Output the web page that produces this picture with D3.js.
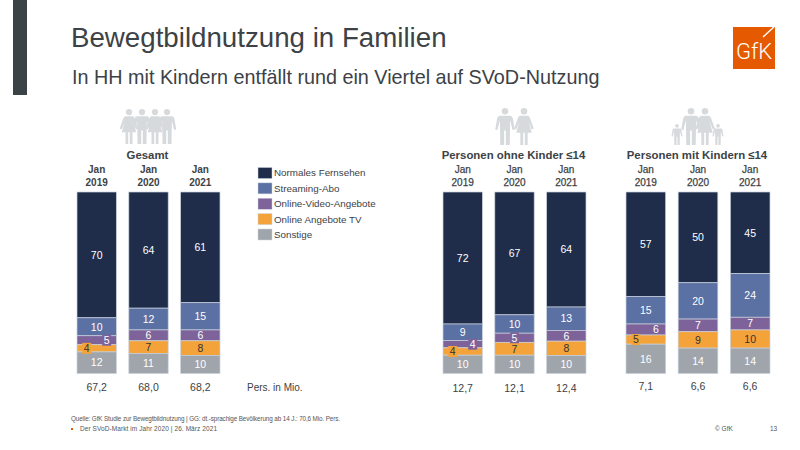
<!DOCTYPE html>
<html>
<head>
<meta charset="utf-8">
<script src="https://cdn.jsdelivr.net/npm/d3@7"></script>
<style>
  html, body { margin: 0; padding: 0; background: #fff; }
  svg { display: block; font-family: "Liberation Sans", Arial, sans-serif; }
</style>
</head>
<body>
<svg id="chart" width="800" height="450"></svg>
<script>
const years = ['2019', '2020', '2021'];
const seriesNames = ['Normales Fernsehen', 'Streaming-Abo', 'Online-Video-Angebote', 'Online Angebote TV', 'Sonstige'];
const seriesColors = ['#1f2d4a', '#5b70a3', '#7d6399', '#f4a33a', '#9fa5aa'];
const labelColors = ['#fff', '#fff', '#fff', '#333', '#fff'];

const groupTitles = ['Gesamt', 'Personen ohne Kinder ≤14', 'Personen mit Kindern ≤14'];

// one row per year: TV, streaming, online video, online TV, other
const gesamt = [[70, 10, 5, 4, 12], [64, 12, 6, 7, 11], [61, 15, 6, 8, 10]];
const ohneKinder = [[72, 9, 4, 4, 10], [67, 10, 5, 7, 10], [64, 13, 6, 8, 10]];
const mitKindern = [[57, 15, 6, 5, 16], [50, 20, 7, 9, 14], [45, 24, 7, 10, 14]];
const groupValues = [gesamt, ohneKinder, mitKindern];

const totalsGesamt = ['67,2', '68,0', '68,2'];
const totalsOhne = ['12,7', '12,1', '12,4'];
const totalsMit = ['7,1', '6,6', '6,6'];
const groupTotals = [totalsGesamt, totalsOhne, totalsMit];

const groupRanges = [[77, 220], [443, 586], [626, 770]];
const totalsY = [391, 392, 390];

// small labels that got pulled sideways in the original, key = group-year-series
const labelNudge = { '0-0-2': 10, '0-0-3': -10, '1-0-2': 10, '1-0-3': -10, '2-0-2': 10, '2-0-3': -10 };
const boxedLabels = ['0-0-2', '0-0-3', '1-0-2', '1-0-3', '1-1-2', '2-0-3'];

const textColor = '#3c4246';
const svg = d3.select('#chart');

// header
svg.append('rect').attr('x', 13).attr('y', 0).attr('width', 14).attr('height', 95).attr('fill', '#3c4347');
svg.append('text').attr('x', 71).attr('y', 47).attr('font-size', 27.7).attr('fill', textColor)
  .text('Bewegtbildnutzung in Familien');
svg.append('text').attr('x', 72).attr('y', 84).attr('font-size', 19.8).attr('fill', textColor)
  .text('In HH mit Kindern entfällt rund ein Viertel auf SVoD-Nutzung');

// logo
const logo = svg.append('g');
logo.append('rect').attr('x', 733).attr('y', 27).attr('width', 42).attr('height', 42).attr('fill', '#e55a00');
logo.append('text').attr('x', 736).attr('y', 59).attr('font-size', 22).attr('font-family', 'Roboto')
  .attr('font-weight', 300).attr('fill', '#fff').text('GfK');
logo.append('path').attr('d', 'M763 37 L775 26').attr('stroke', '#fff').attr('stroke-width', 1.4);

// stacked bars, first series on top
const y = d3.scaleLinear().domain([0, 1]).range([373.5, 192]);
const stack = d3.stack().keys(d3.range(seriesNames.length)).offset(d3.stackOffsetExpand).order(d3.stackOrderReverse);

groupValues.forEach((rows, gi) => {
  const x = d3.scaleBand().domain(years).range(groupRanges[gi]).paddingInner(0.24);
  const g = svg.append('g');
  const mid = d3.mean(groupRanges[gi]);

  g.append('text').attr('x', mid - 1).attr('y', 159).attr('text-anchor', 'middle')
    .attr('font-size', 11.4).attr('font-weight', 'bold').attr('fill', textColor)
    .text(groupTitles[gi]);

  years.forEach((yr, i) => {
    const cx = x(yr) + x.bandwidth() / 2;
    const head = g.append('text').attr('text-anchor', 'middle').attr('font-size', 10)
      .attr('font-weight', gi === 0 ? 'bold' : 'normal').attr('fill', textColor)
      .attr('stroke', gi === 0 ? 'none' : textColor).attr('stroke-width', 0.25);
    head.append('tspan').attr('x', cx).attr('y', 173).text('Jan');
    head.append('tspan').attr('x', cx).attr('y', 186).text(yr);
    g.append('text').attr('x', cx).attr('y', totalsY[gi]).attr('text-anchor', 'middle')
      .attr('font-size', 10.5).attr('fill', textColor).text(groupTotals[gi][i]);
  });

  const layers = stack(rows);
  layers.forEach(layer => {
    const si = layer.key;
    layer.forEach((d, i) => {
      const yr = years[i];
      g.append('rect')
        .attr('x', x(yr)).attr('width', x.bandwidth())
        .attr('y', y(d[1])).attr('height', y(d[0]) - y(d[1]))
        .attr('fill', seriesColors[si])
        .attr('stroke', '#c9d1dc').attr('stroke-width', 0.7);
    });
  });
  layers.forEach(layer => {
    const si = layer.key;
    layer.forEach((d, i) => {
      const key = gi + '-' + i + '-' + si;
      const cx = x(years[i]) + x.bandwidth() / 2 + (labelNudge[key] || 0);
      const cy = (y(d[0]) + y(d[1])) / 2;
      if (boxedLabels.includes(key)) {
        g.append('rect').attr('x', cx - 4.5).attr('y', cy - 5.5).attr('width', 9).attr('height', 11)
          .attr('fill', seriesColors[si]);
      }
      g.append('text').attr('x', cx).attr('y', cy).attr('dy', '0.36em').attr('text-anchor', 'middle')
        .attr('font-size', 10.5).attr('fill', labelColors[si]).text(rows[i][si]);
    });
  });
});

svg.append('text').attr('x', 247).attr('y', 391).attr('font-size', 10).attr('fill', textColor).text('Pers. in Mio.');

// legend
const legendY = d3.scalePoint().domain(seriesNames).range([173, 234.5]);
seriesNames.forEach((name, i) => {
  svg.append('rect').attr('x', 258).attr('y', legendY(name) - 5.5).attr('width', 14).attr('height', 11)
    .attr('fill', seriesColors[i]).attr('stroke', '#c9d1dc').attr('stroke-width', 0.5);
  svg.append('text').attr('x', 274).attr('y', legendY(name)).attr('dy', '0.35em')
    .attr('font-size', 9.8).attr('fill', textColor).text(name);
});

// people icons
const iconColor = '#d7dadc';
function man(cx, top, h) {
  const s = h / 36;
  const p = svg.append('g').attr('transform', `translate(${cx},${top}) scale(${s})`).attr('fill', iconColor);
  p.append('circle').attr('cx', 0).attr('cy', 3.2).attr('r', 3.2);
  p.append('path').attr('d', 'M-5 7.5 H5 Q7 7.5 7.6 10 L9.5 21 L7.3 21.5 L5 12 L4.6 36 H0.8 V22 H-0.8 V36 H-4.6 L-5 12 L-7.3 21.5 L-9.5 21 L-7.6 10 Q-7 7.5 -5 7.5 Z');
}
function woman(cx, top, h) {
  const s = h / 36;
  const p = svg.append('g').attr('transform', `translate(${cx},${top}) scale(${s})`).attr('fill', iconColor);
  p.append('circle').attr('cx', 0).attr('cy', 3.2).attr('r', 3.2);
  p.append('path').attr('d', 'M-3.5 7.5 H3.5 Q5 7.5 5.8 9.5 L9.5 20 L7.5 21 L4.5 13 L7.5 24 H3.6 V36 H0.8 V24 H-0.8 V36 H-3.6 V24 H-7.5 L-4.5 13 L-7.5 21 L-9.5 20 L-5.8 9.5 Q-5 7.5 -3.5 7.5 Z');
}
woman(129, 109, 35); man(142, 109, 35); woman(155, 109, 35); man(167, 109, 35);
man(505, 108, 37); woman(524, 108, 37);
man(677, 124, 21); man(691, 108, 37); woman(705, 108, 37); man(718, 124, 21);

// footer
svg.append('text').attr('x', 71).attr('y', 421).attr('font-size', 6.3).attr('fill', '#555')
  .attr('textLength', 269).attr('lengthAdjust', 'spacing')
  .text('Quelle: GfK Studie zur Bewegtbildnutzung  | GG: dt.-sprachige Bevölkerung  ab 14 J.: 70,6 Mio. Pers.');
svg.append('rect').attr('x', 71).attr('y', 428).attr('width', 2).attr('height', 2).attr('fill', '#e55a00');
svg.append('text').attr('x', 80).attr('y', 431).attr('font-size', 6.5).attr('fill', '#555')
  .attr('textLength', 137).attr('lengthAdjust', 'spacing')
  .text('Der SVoD-Markt im Jahr 2020 | 26. März 2021');
svg.append('text').attr('x', 715).attr('y', 431).attr('font-size', 6.5).attr('fill', '#555').text('© GfK');
svg.append('text').attr('x', 770).attr('y', 431).attr('font-size', 6.5).attr('fill', '#555').text('13');
</script>
</body>
</html>
